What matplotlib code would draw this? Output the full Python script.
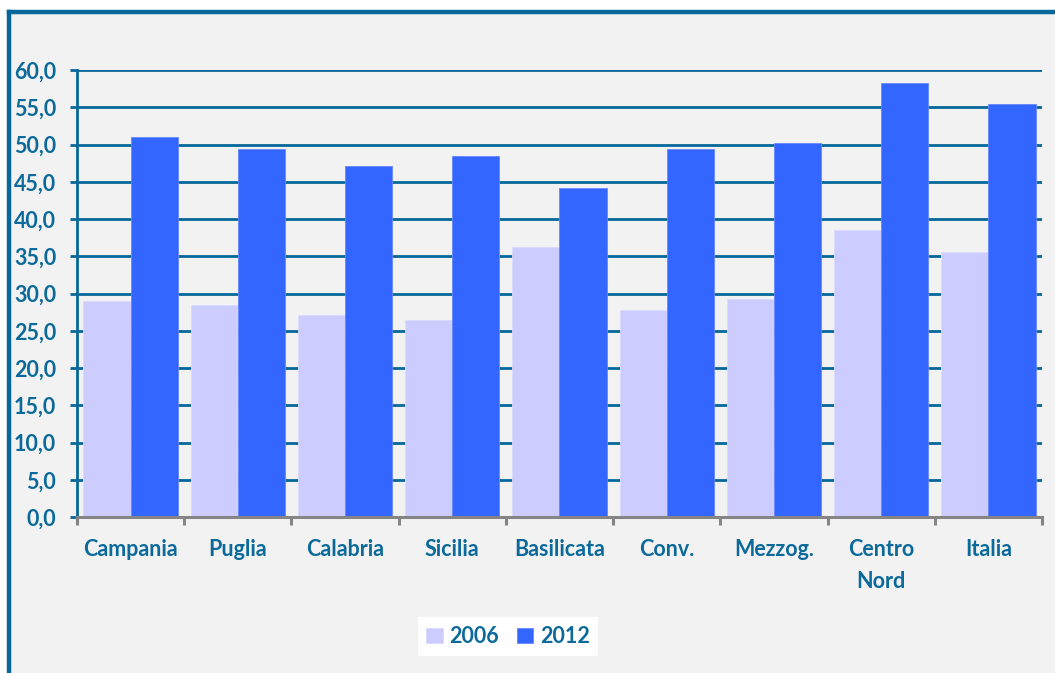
import matplotlib
matplotlib.use("Agg")
import matplotlib.pyplot as plt
import numpy as np
from matplotlib.patches import Rectangle
from matplotlib.lines import Line2D

categories = ["Campania", "Puglia", "Calabria", "Sicilia", "Basilicata",
              "Conv.", "Mezzog.", "Centro\nNord", "Italia"]
values_2006 = [29.0, 28.5, 27.1, 26.5, 36.3, 27.8, 29.2, 38.5, 35.6]
values_2012 = [51.0, 49.4, 47.1, 48.5, 44.1, 49.4, 50.2, 58.3, 55.5]
yticks = [0, 5, 10, 15, 20, 25, 30, 35, 40, 45, 50, 55, 60]
ytick_labels = ["0,0", "5,0", "10,0", "15,0", "20,0", "25,0", "30,0",
                "35,0", "40,0", "45,0", "50,0", "55,0", "60,0"]
series_names = ["2006", "2012"]

TXT = "#0B6A9A"
GRID = "#06679A"
C2006 = "#CCCCFF"
C2012 = "#3366FF"

plt.rcParams['font.family'] = ['Lato', 'DejaVu Sans']
plt.rcParams['font.weight'] = 'bold'

W, H = 1055, 673
fig = plt.figure(figsize=(W / 100, H / 100), dpi=100)
fig.patch.set_facecolor("white")

# background frame
fig.patches.append(Rectangle((8.5 / W, 0), 1, 1 - 11.5 / H, transform=fig.transFigure,
                             facecolor="#F2F2F2", edgecolor="none", zorder=-10))
fig.lines.append(Line2D([8.5 / W, 8.5 / W], [0, 1 - 11.5 / H], transform=fig.transFigure,
                        color=GRID, lw=3.2, solid_capstyle="projecting", zorder=-5))
fig.lines.append(Line2D([8.5 / W, 1], [1 - 11.5 / H, 1 - 11.5 / H], transform=fig.transFigure,
                        color=GRID, lw=3.2, solid_capstyle="projecting", zorder=-5))

left, right = 77 / W, 1042 / W
top, bottom = 1 - 70 / H, 1 - 517 / H
ax = fig.add_axes([left, bottom, right - left, top - bottom])
ax.set_facecolor("none")

x = np.arange(len(categories))
bw = 0.44
ax.bar(x - bw / 2, values_2006, width=bw, color=C2006, edgecolor="#DADAFF",
       linewidth=0.6, label=series_names[0], zorder=3)
ax.bar(x + bw / 2, values_2012, width=bw, color=C2012, edgecolor="#6688FF",
       linewidth=0.6, label=series_names[1], zorder=3)

ax.set_xlim(-0.5, len(categories) - 0.5)
ax.set_ylim(0, 60)
ax.set_yticks(yticks)
ax.set_yticklabels(ytick_labels)
for yv in yticks[1:]:
    ax.axhline(yv, color=GRID, lw=2.0, zorder=1)

FS = 15.5
ax.set_xticks(x)
ax.set_xticklabels(categories, linespacing=1.65)
ax.set_xticks(np.arange(-0.5, len(categories), 1.0), minor=True)
ax.tick_params(axis="x", which="major", length=0, pad=16, labelsize=FS,
               labelcolor=TXT)
ax.tick_params(axis="x", which="minor", length=6, width=2.2, color="#858585",
               direction="out")
ax.tick_params(axis="y", length=5, width=2.0, color=GRID, pad=10, labelsize=FS,
               labelcolor=TXT)
for lab in ax.get_xticklabels() + ax.get_yticklabels():
    lab.set_fontweight("bold")

for s in ["top", "right"]:
    ax.spines[s].set_visible(False)
ax.spines["left"].set_color(GRID)
ax.spines["left"].set_linewidth(2.0)
ax.spines["left"].set_zorder(4)
ax.spines["bottom"].set_color("#858585")
ax.spines["bottom"].set_linewidth(2.2)
ax.spines["bottom"].set_zorder(4)

leg = fig.legend(loc="center", bbox_to_anchor=(508 / W, 1 - 636.5 / H), ncol=2,
                 frameon=True, fancybox=False, facecolor="white", edgecolor="none",
                 framealpha=1, handlelength=0.75, handleheight=0.75, handletextpad=0.3,
                 columnspacing=0.85, borderpad=0.4, borderaxespad=0,
                 prop={"weight": "bold", "size": FS})
for t in leg.get_texts():
    t.set_color(TXT)
leg.get_frame().set_linewidth(0)

fig.savefig("out.png", dpi=100, facecolor=fig.get_facecolor())
